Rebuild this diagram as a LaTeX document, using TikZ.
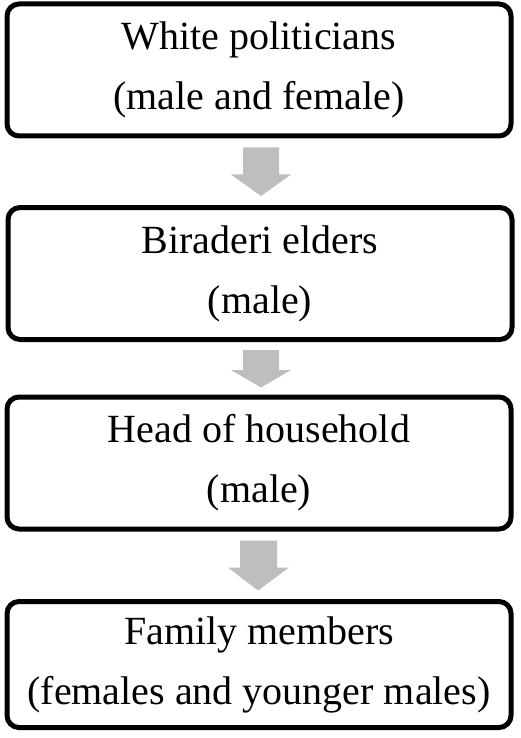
\documentclass[tikz,border=0pt]{standalone}
\usepackage{fontspec}
\setmainfont{Liberation Serif}
\usetikzlibrary{calc}
\definecolor{arrowgray}{HTML}{BEBEBE}
\tikzset{
  levelbox/.style={draw=black, line width=5pt, rounded corners=12pt, fill=white,
    minimum width=504pt, align=center, inner sep=0pt,
    font=\fontsize{40pt}{60pt}\selectfont},
  flowarrow/.style={fill=arrowgray, draw=none}
}
\begin{document}
\begin{tikzpicture}[x=1pt,y=-1pt]
\useasboundingbox (0,0) rectangle (520,738);
\node[levelbox, minimum height=132pt] (b1) at (259,70) {White politicians\\(male and female)};
\node[levelbox, minimum height=132pt] (b2) at (260,273.5) {Biraderi elders\\(male)};
\node[levelbox, minimum height=132pt] (b3) at (259,463) {Head of household\\(male)};
\node[levelbox, minimum height=126pt] (b4) at (259,664.5) {Family members\\(females and younger males)};
% arrows between boxes
\fill[flowarrow] ($(b1.south)+(-16,9)$) -- ($(b1.south)+(20,9)$) -- ($(b1.south)+(20,36)$) -- ($(b1.south)+(32,36)$)
  -- ($(b2.north)+(1,-9)$) -- ($(b1.south)+(-28,36)$) -- ($(b1.south)+(-16,36)$) -- cycle;
\fill[flowarrow] ($(b2.south)+(-17,8)$) -- ($(b2.south)+(19,8)$) -- ($(b2.south)+(19,28)$) -- ($(b2.south)+(31,28)$)
  -- ($(b3.north)+(2,-7)$) -- ($(b2.south)+(-29,28)$) -- ($(b2.south)+(-17,28)$) -- cycle;
\fill[flowarrow] ($(b3.south)+(-19,9)$) -- ($(b3.south)+(18,9)$) -- ($(b3.south)+(18,36)$) -- ($(b3.south)+(30,36)$)
  -- ($(b4.north)+(-1,-8.5)$) -- ($(b3.south)+(-31,36)$) -- ($(b3.south)+(-19,36)$) -- cycle;
\end{tikzpicture}
\end{document}
